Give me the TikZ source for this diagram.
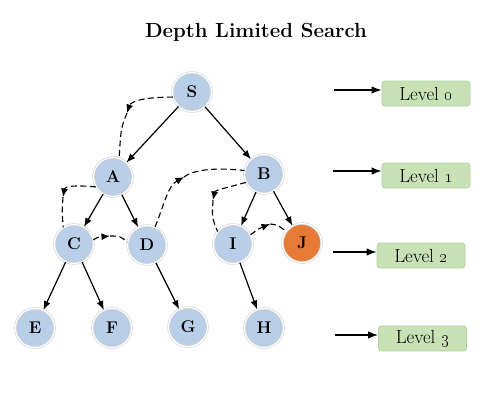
\documentclass[tikz,border=0pt]{standalone}
\usetikzlibrary{arrows.meta}
\definecolor{nodeblue}{RGB}{185,207,232}
\definecolor{jorange}{RGB}{232,122,56}
\definecolor{lvlgreen}{RGB}{200,226,182}
\definecolor{lvledge}{RGB}{178,208,162}
\begin{document}
\begin{tikzpicture}[x=1bp,y=-1bp,
  vtx/.style={circle, minimum size=39bp, inner sep=0pt, fill=nodeblue,
    draw=black!18, line width=0.6bp, double=white, double distance=1.2bp,
    font=\fontsize{17}{17}\selectfont\bfseries},
  goal/.style={vtx, fill=jorange},
  tree/.style={-{Latex[length=9bp,width=7bp]}, line width=1.2bp},
  back/.style={dash pattern=on 6bp off 3.5bp, line width=1.1bp},
  backtip/.style={back, -{Latex[length=8.5bp,width=7bp]}},
  lvl/.style={rounded corners=3bp, fill=lvlgreen, draw=lvledge, line width=0.8bp,
    minimum width=88bp, minimum height=25bp, inner sep=0pt,
    font=\fontsize{19}{19}\selectfont},
  lvlarrow/.style={-{Latex[length=10bp,width=7.5bp]}, line width=1.4bp}]
\useasboundingbox (0,0) rectangle (500,400);

\node[anchor=base, font=\fontsize{20.5}{20.5}\selectfont\bfseries] (title) at (256,37) {Depth Limited Search};

% tree nodes
\node[vtx] (S) at (192,92) {S};
\node[vtx] (A) at (113,177) {A};
\node[vtx] (B) at (264,174) {B};
\node[vtx] (C) at (74,244) {C};
\node[vtx] (D) at (147,245) {D};
\node[vtx] (I) at (233,244) {I};
\node[goal] (J) at (302,243) {J};
\node[vtx] (E) at (35,328) {E};
\node[vtx] (F) at (112,328) {F};
\node[vtx] (G) at (188,327) {G};
\node[vtx] (H) at (264,328) {H};

% tree edges
\draw[tree] (S) -- (A);
\draw[tree] (S) -- (B);
\draw[tree] (A) -- (C);
\draw[tree] (A) -- (D);
\draw[tree] (B) -- (I);
\draw[tree] (B) -- (J);
\draw[tree] (C) -- (E);
\draw[tree] (C) -- (F);
\draw[tree] (D) -- (G);
\draw[tree] (I) -- (H);

% search order (dashed)
\coordinate (m1) at (127,113);
\coordinate (m2) at (63,197);
\coordinate (m3) at (110,236);
\coordinate (m4) at (184,177);
\coordinate (m5) at (213,200);
\coordinate (m6) at (270,224);
\draw[backtip] (S.195) .. controls (145,97) and (131,101) .. (m1);
\draw[back] (m1) .. controls (121,128) .. (A.72);
\draw[backtip] (A.210) .. controls (76,185) and (65,186) .. (m2);
\draw[back] (m2) .. controls (62,212) .. (C.123);
\draw[backtip] (C.12) .. controls (98,237) .. (m3);
\draw[back] (m3) .. controls (120,236) .. (D.172);
\draw[backtip] (D.66) .. controls (165,202) and (168,186) .. (m4);
\draw[back] (m4) .. controls (196,168) and (222,168) .. (B.170);
\draw[backtip] (B.205) .. controls (226,188) and (215,190) .. (m5);
\draw[back] (m5) .. controls (212,218) .. (I.141);
\draw[backtip] (I.28) .. controls (260,228) .. (m6);
\draw[back] (m6) .. controls (278,225) .. (J.144);

% levels
\node[lvl] (L0) at (426,93.5) {Level \oldstylenums{0}};
\node[lvl] (L1) at (426,175.5) {Level \oldstylenums{1}};
\node[lvl] (L2) at (421,255.5) {Level \oldstylenums{2}};
\node[lvl] (L3) at (422.5,338.5) {Level \oldstylenums{3}};
\coordinate (a0) at (334,90);
\coordinate (a1) at (333,171);
\coordinate (a2) at (333,252);
\coordinate (a3) at (335,335);
\draw[lvlarrow] (a0) -- (a0 -| L0.west);
\draw[lvlarrow] (a1) -- (a1 -| L1.west);
\draw[lvlarrow] (a2) -- (a2 -| L2.west);
\draw[lvlarrow] (a3) -- (a3 -| L3.west);
\end{tikzpicture}
\end{document}
